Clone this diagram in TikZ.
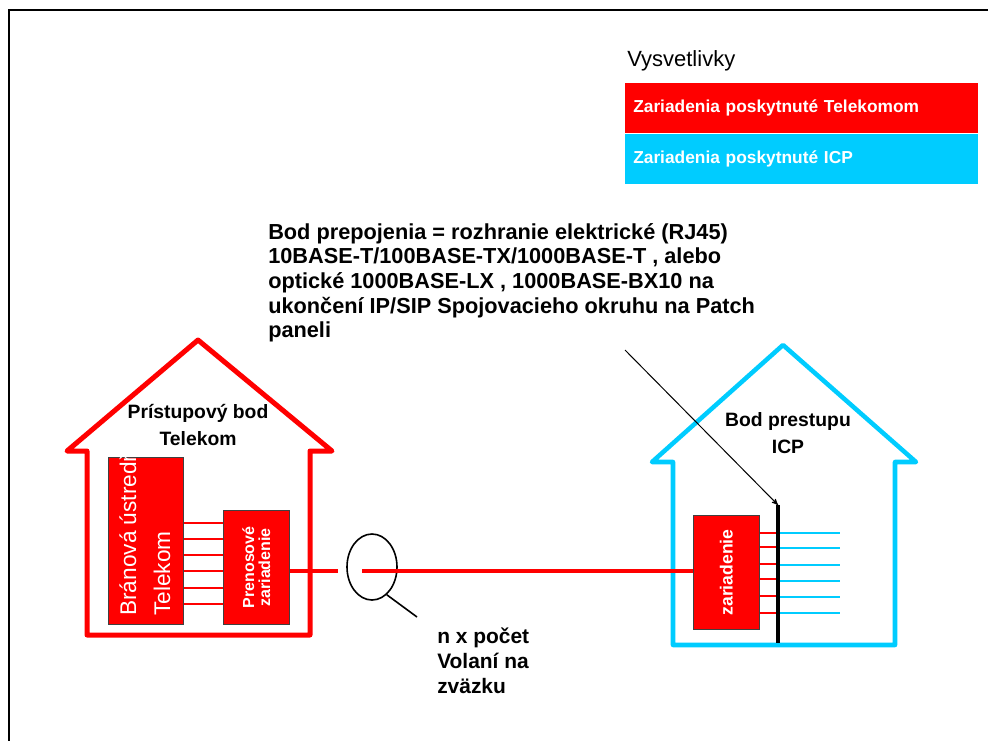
\documentclass[tikz,border=0pt]{standalone}
\usepackage{fontspec}
\setmainfont{Liberation Sans}
\usetikzlibrary{arrows,shapes.geometric}
\usetikzlibrary{positioning}

\definecolor{tred}{RGB}{255,0,0}
\definecolor{tcyan}{RGB}{0,204,255}

\begin{document}
\begin{tikzpicture}[x=0.75pt,y=-0.75pt,>=stealth',
                    red house/.style={draw=tred,line width=3.75pt,line join=round},
                    cyan house/.style={draw=tcyan,line width=3.4pt,line join=round},
                    device box/.style={rectangle,fill=tred,draw=black!75,line width=0.6pt,inner sep=0pt},
                    legend box/.style={rectangle,inner xsep=6pt,inner ysep=0pt,minimum height=37.5pt,
                                       text width=252.75pt,align=left,text=white,
                                       font=\fontsize{13}{15}\selectfont\bfseries},
                    red port/.style={draw=tred,line width=1.8pt},
                    cyan port/.style={draw=tcyan,line width=1.6pt},
                    main line/.style={draw=tred,line width=3pt},
                    note/.style={inner sep=0pt,align=left,font=\fontsize{16.3}{18.5}\selectfont\bfseries}]

\useasboundingbox (0,0) rectangle (988,740);

% frame (only top and left edge are visible)
\draw[line width=1.5pt] (9,745) -- (9,10) -- (995,10);

% legend
\node[inner sep=0pt,anchor=base west,font=\fontsize{16.5}{19}\selectfont] (vys) at (627,66) {Vysvetlivky};
\node[legend box,fill=tred] (lgred) at (625,83) [anchor=north west] {Zariadenia poskytnuté Telekomom};
\node[legend box,fill=tcyan] (lgcyan) at (lgred.south west) [anchor=north west] {Zariadenia poskytnuté ICP};

% houses
\draw[red house] (87,635) -- (87,451) -- (67,451) -- (198,340) -- (332,451) -- (310,451) -- (310,635) -- cycle;
\draw[cyan house] (673,645) -- (673,462) -- (652,462) -- (783,345) -- (916,462) -- (895,462) -- (895,645) -- cycle;

\node[align=center,inner sep=0pt,font=\fontsize{14.5}{20.3}\selectfont\bfseries] (ltitle) at (198,425) {Prístupový bod\\Telekom};
\node[align=center,inner sep=0pt,font=\fontsize{14.5}{20.8}\selectfont\bfseries] (rtitle) at (788,433) {Bod prestupu\\ICP};

% Telekom side
\node[device box] (bu) at (108,457) [anchor=north west, minimum width=56.25pt, minimum height=125.25pt] {};
\node[device box] (pz) at (223,510) [anchor=north west, minimum width=49.5pt, minimum height=85.5pt] {};
\begin{scope}
  \clip (bu.north west) rectangle (bu.south east);
  \node[rotate=90,anchor=west,align=left,inner sep=0pt,text=white,
        font=\fontsize{17}{25.5}\selectfont] (butext) at (145,616) {Bránová ústredňa\\Telekom};
\end{scope}
\node[rotate=90,align=center,inner sep=0pt,text=white,
      font=\fontsize{12}{12}\selectfont\bfseries] (pztext) at (pz.center) {Prenosové\\zariadenie};

\foreach \y in {523,539,555,571,588,604}
  \draw[red port] (bu.east |- 0,\y) -- (pz.west |- 0,\y);

% bundle
\node[ellipse,draw,line width=1.2pt,minimum width=37.5pt,minimum height=49.5pt,inner sep=0pt] (zv) at (372,567) {};
\coordinate (cut a) at (338,571);
\coordinate (cut b) at (362,571);
\coordinate (hd) at (417,617);
\draw[main line] (pz.east |- cut a) -- (cut a);
\draw[line width=1.2pt] (zv.-62) -- (hd);
\node[note,anchor=north west,font=\fontsize{15.7}{18.75}\selectfont\bfseries] (nx) at (437,628) {n x počet\\Volaní na\\zväzku};

% ICP side
\node[device box] (zr) at (693,515) [anchor=north west, minimum width=49.5pt, minimum height=85.5pt] {};
\node[rotate=90,inner sep=0pt,text=white,font=\fontsize{13.2}{15}\selectfont\bfseries] (zrtext) at (zr.center) {zariadenie};
\draw[main line] (cut b) -- (zr.west |- cut b);

\coordinate (pp top) at (778,505);
\coordinate (pp bot) at (778,643);
\foreach \y in {533,547,564,579,596,613}
  \draw[red port] (zr.east |- 0,\y) -- (pp top |- 0,\y);
\foreach \y in {533,548,565,581,597,613}
  \draw[cyan port] (pp top |- 0,\y) -- (840,\y);
\draw[line width=3pt] (pp top) -- (pp bot);

% patch panel note
\node[note,anchor=north west] (bp) at (268,223)
  {Bod prepojenia = rozhranie elektrické (RJ45)\\
   10BASE-T/100BASE-TX/1000BASE-T , alebo\\
   optické 1000BASE-LX , 1000BASE-BX10 na\\
   ukončení IP/SIP Spojovacieho okruhu na Patch\\
   paneli};
\coordinate (ar) at (625,350);
\path (ar) edge [->,line width=0.75pt] (pp top);

\end{tikzpicture}
\end{document}
